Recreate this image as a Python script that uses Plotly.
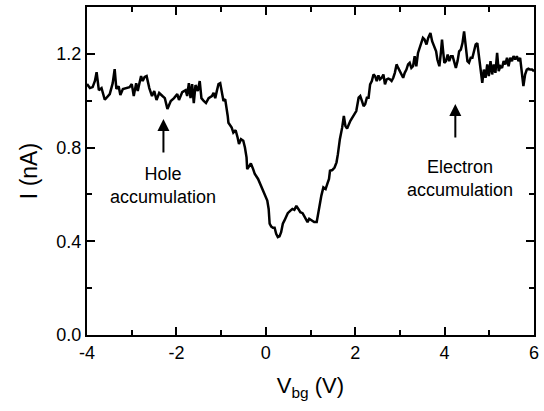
import plotly.graph_objects as go

# Back-gate voltage V_bg (V)
vbg = [-4.000, -3.934, -3.874, -3.823, -3.785, -3.735, -3.675, -3.602, -3.491, -3.425,
       -3.381, -3.343, -3.292, -3.254, -3.197, -3.122, -3.049, -2.998, -2.954, -2.900,
       -2.865, -2.827, -2.790, -2.754, -2.710, -2.666, -2.606, -2.546, -2.496, -2.445,
       -2.385, -2.312, -2.259, -2.201, -2.126, -2.053, -1.980, -1.942, -1.869, -1.794,
       -1.759, -1.721, -1.684, -1.648, -1.611, -1.573, -1.522, -1.478, -1.440, -1.389,
       -1.338, -1.279, -1.206, -1.168, -1.131, -1.096, -1.058, -1.020, -0.985, -0.947,
       -0.909, -0.874, -0.852, -0.836, -0.763, -0.726, -0.675, -0.631, -0.600, -0.555,
       -0.504, -0.467, -0.431, -0.416, -0.378, -0.334, -0.283, -0.246, -0.173, -0.122,
       -0.062, -0.011, 0.033, 0.064, 0.086, 0.122, 0.159, 0.197, 0.232, 0.270,
       0.307, 0.343, 0.381, 0.418, 0.454, 0.491, 0.551, 0.595, 0.639, 0.684,
       0.728, 0.772, 0.823, 0.861, 0.896, 0.934, 0.971, 1.022, 1.082, 1.139,
       1.170, 1.206, 1.243, 1.288, 1.338, 1.376, 1.414, 1.436, 1.487, 1.538,
       1.582, 1.613, 1.657, 1.708, 1.746, 1.781, 1.819, 1.892, 1.967, 2.024,
       2.077, 2.113, 2.150, 2.188, 2.223, 2.261, 2.299, 2.334, 2.372, 2.409,
       2.445, 2.482, 2.520, 2.555, 2.593, 2.631, 2.666, 2.704, 2.741, 2.777,
       2.814, 2.852, 2.887, 2.925, 2.962, 2.998, 3.035, 3.073, 3.108, 3.146,
       3.183, 3.219, 3.257, 3.294, 3.330, 3.367, 3.405, 3.440, 3.478, 3.515,
       3.551, 3.595, 3.633, 3.683, 3.721, 3.765, 3.810, 3.838, 3.883, 3.920,
       3.942, 3.971, 3.994, 4.031, 4.069, 4.104, 4.142, 4.180, 4.214, 4.252,
       4.290, 4.325, 4.363, 4.400, 4.436, 4.473, 4.511, 4.546, 4.584, 4.622,
       4.657, 4.695, 4.732, 4.768, 4.805, 4.843, 4.878, 4.916, 4.954, 4.989,
       5.027, 5.064, 5.100, 5.137, 5.175, 5.210, 5.248, 5.285, 5.321, 5.358,
       5.396, 5.431, 5.469, 5.507, 5.542, 5.580, 5.617, 5.653, 5.690, 5.728,
       5.763, 5.801, 5.839, 5.874, 5.912, 5.956, 6.000]

# Current I (nA)
current = [1.071, 1.054, 1.058, 1.084, 1.122, 1.045, 1.054, 1.004, 1.028, 1.075,
           1.135, 1.050, 1.062, 1.024, 1.050, 1.054, 1.058, 1.071, 1.020, 1.075,
           1.041, 1.075, 1.105, 1.084, 1.101, 1.105, 1.054, 1.020, 1.041, 1.003,
           1.033, 1.020, 1.011, 0.965, 0.999, 1.011, 1.028, 1.003, 1.037, 1.045,
           1.020, 1.075, 1.011, 1.071, 0.990, 1.067, 1.041, 1.084, 1.011, 0.999,
           0.990, 1.011, 1.020, 1.033, 1.011, 1.041, 1.071, 1.075, 1.041, 0.999,
           1.007, 0.973, 0.935, 0.906, 0.885, 0.864, 0.874, 0.843, 0.815, 0.836,
           0.829, 0.800, 0.758, 0.708, 0.722, 0.732, 0.708, 0.687, 0.666, 0.645,
           0.616, 0.595, 0.574, 0.538, 0.475, 0.463, 0.458, 0.458, 0.432, 0.418,
           0.421, 0.439, 0.475, 0.489, 0.506, 0.520, 0.531, 0.538, 0.534, 0.551,
           0.538, 0.524, 0.520, 0.506, 0.496, 0.482, 0.496, 0.489, 0.482, 0.482,
           0.517, 0.560, 0.595, 0.630, 0.623, 0.645, 0.666, 0.701, 0.704, 0.715,
           0.737, 0.772, 0.836, 0.885, 0.935, 0.892, 0.881, 0.914, 0.935, 0.956,
           1.013, 1.020, 0.999, 0.977, 0.985, 1.013, 1.013, 1.070, 1.084, 1.112,
           1.105, 1.084, 1.108, 1.091, 1.098, 1.112, 1.070, 1.091, 1.094, 1.091,
           1.084, 1.098, 1.119, 1.155, 1.140, 1.126, 1.112, 1.098, 1.119, 1.133,
           1.155, 1.162, 1.140, 1.147, 1.190, 1.147, 1.204, 1.225, 1.254, 1.268,
           1.261, 1.240, 1.268, 1.289, 1.254, 1.232, 1.211, 1.176, 1.147, 1.211,
           1.261, 1.204, 1.162, 1.169, 1.197, 1.169, 1.190, 1.190, 1.162, 1.140,
           1.169, 1.211, 1.218, 1.246, 1.296, 1.225, 1.169, 1.162, 1.183, 1.183,
           1.211, 1.240, 1.246, 1.197, 1.126, 1.076, 1.133, 1.098, 1.155, 1.105,
           1.169, 1.112, 1.155, 1.119, 1.204, 1.126, 1.147, 1.140, 1.169, 1.155,
           1.183, 1.147, 1.183, 1.169, 1.190, 1.176, 1.190, 1.169, 1.183, 1.105,
           1.062, 1.112, 1.133, 1.137, 1.133, 1.133, 1.126]

x_major = [-4, -2, 0, 2, 4, 6]
x_labels = ["-4", "-2", "0", "2", "4", "6"]
x_minor = [-3, -1, 1, 3, 5]
y_major = [0.0, 0.4, 0.8, 1.2]
y_labels = ["0.0", "0.4", "0.8", "1.2"]
y_minor = [0.2, 0.6, 1.0, 1.4]

# Annotation arrows: (x, tail y, head y)
hole_arrow = (-2.29, 0.773, 0.922)
elec_arrow = (4.24, 0.837, 0.986)

FONT = "Liberation Sans, Arial, sans-serif"

fig = go.Figure()
fig.add_trace(go.Scatter(x=vbg, y=current, mode="lines",
                         line=dict(color="black", width=2.5), showlegend=False,
                         hoverinfo="skip"))

axis_common = dict(showline=True, linecolor="black", linewidth=2, mirror="allticks",
                   ticks="inside", ticklen=8, tickwidth=1.5, tickcolor="black",
                   showgrid=False, zeroline=False,
                   tickfont=dict(family=FONT, size=18, color="black"))

fig.update_xaxes(range=[-4, 6], tickmode="array", tickvals=x_major, ticktext=x_labels,
                 minor=dict(tickmode="array", tickvals=x_minor, ticks="inside", ticklen=5,
                            tickwidth=1.5, tickcolor="black", showgrid=False),
                 title=dict(text="V<sub>bg</sub> (V)", font=dict(family=FONT, size=22, color="black"),
                            standoff=16),
                 **axis_common)
fig.update_yaxes(range=[0, 1.4], tickmode="array", tickvals=y_major, ticktext=y_labels,
                 minor=dict(tickmode="array", tickvals=y_minor, ticks="inside", ticklen=5,
                            tickwidth=1.5, tickcolor="black", showgrid=False),
                 title=dict(text="I (nA)", font=dict(family=FONT, size=23, color="black"),
                            standoff=12),
                 **axis_common)

for ax_x, y_tail, y_head in (hole_arrow, elec_arrow):
    fig.add_annotation(x=ax_x, y=y_head, ax=ax_x, ay=y_tail, xref="x", yref="y",
                       axref="x", ayref="y", showarrow=True, arrowhead=2, arrowsize=1.2,
                       arrowwidth=2, arrowcolor="black", text="")

# Labels
fig.add_annotation(x=hole_arrow[0], y=0.637, xref="x", yref="y", showarrow=False,
                   text="Hole<br>accumulation", align="center",
                   font=dict(family=FONT, size=18, color="black"))
fig.add_annotation(x=4.35, y=0.667, xref="x", yref="y", showarrow=False,
                   text="Electron<br>accumulation", align="center",
                   font=dict(family=FONT, size=18, color="black"))

fig.update_layout(width=544, height=411, margin=dict(l=87, r=5, t=5, b=76),
                  paper_bgcolor="white", plot_bgcolor="white",
                  font=dict(family=FONT, color="black"))

fig.write_html("out.html")
